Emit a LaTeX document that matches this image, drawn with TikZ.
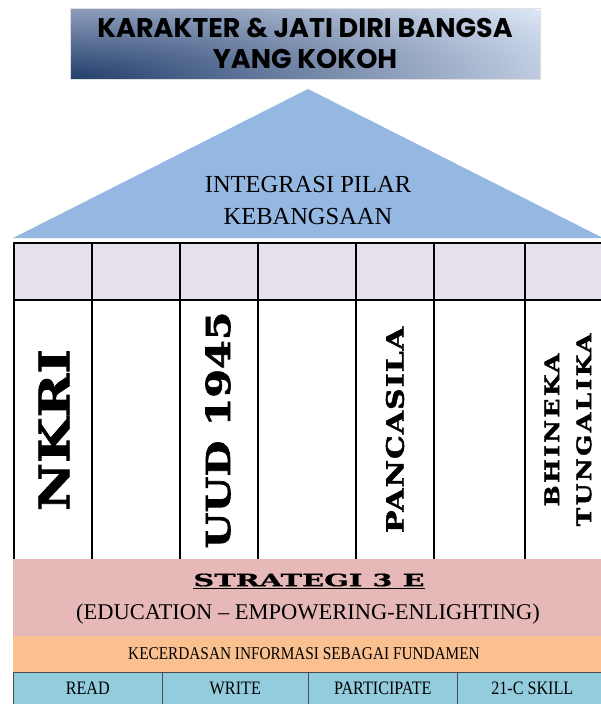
\documentclass[tikz,border=0pt]{standalone}
\usepackage{fontspec}
\setmainfont{Liberation Serif}
\newfontfamily\decofont{Poppins}
\newfontfamily\pillarfont{DejaVu Serif Bold}[FakeStretch=1.25,FakeBold=2]
\newfontfamily\stratfont{DejaVu Serif Bold}[FakeStretch=1.7,FakeBold=1]
\newfontfamily\narrowfont{Liberation Serif}[FakeStretch=0.85]
\definecolor{roofblue}{RGB}{149,184,226}
\definecolor{cellgray}{RGB}{229,224,236}
\definecolor{stratpink}{RGB}{230,185,184}
\definecolor{infoorange}{RGB}{250,192,144}
\definecolor{skillblue}{RGB}{147,205,221}
\definecolor{navy}{RGB}{35,62,108}
\definecolor{paleblue}{RGB}{220,230,246}

\begin{document}
\begin{tikzpicture}[x=1pt,y=-1pt,
    grid/.style={line width=1.6pt},
    pillar/.style={rotate=90,font=\pillarfont,inner sep=0pt,align=center},
    skill/.style={draw=black!70,fill=skillblue,line width=.6pt,anchor=north west,
      minimum height=32pt,inner sep=0pt,font=\narrowfont\fontsize{19}{20}\selectfont}]
  \useasboundingbox (0,0) rectangle (601,704);
  % atap
  \begin{scope}
    \clip (70,8) rectangle (540,79);
    \shade[inner color=navy,outer color=paleblue] (70,79) ellipse (560 and 125);
  \end{scope}
  \node[draw=gray!25,minimum width=470pt,minimum height=71pt,align=center,
    font=\decofont\bfseries\fontsize{27}{31}\selectfont] (title) at (305,43.5)
    {KARAKTER \& JATI DIRI BANGSA\\YANG KOKOH};
  \fill[roofblue] (13,238) -- (308,89) -- (603,238) -- cycle;
  \node[align=center,font=\fontsize{24.5}{32}\selectfont] (roof) at (308,201)
    {INTEGRASI PILAR\\KEBANGSAAN};
  % tiang
  \fill[cellgray] (14,243) rectangle (601,300);
  \draw[grid] (13,243) -- (601,243);
  \draw[grid] (13,300) -- (601,300);
  \foreach \x in {14,92,180,258,356,434,525}
    \draw[grid] (\x,243) -- (\x,560);
  \node[pillar,font=\pillarfont\fontsize{42}{42}\selectfont] (nkri) at (54,430) {NKRI};
  \node[pillar,font=\pillarfont\fontsize{33}{33}\selectfont] (uud) at (218,430) {UUD 1945};
  \node[pillar,font=\pillarfont\fontsize{24}{24}\selectfont\addfontfeature{LetterSpace=4}] (pancasila) at (395,430) {PANCASILA};
  \node[pillar,font=\pillarfont\fontsize{20}{32}\selectfont\addfontfeature{LetterSpace=12}] (bhineka) at (568,430) {BHINEKA\\TUNGALIKA};
  % fondasi
  \fill[stratpink] (13,559) rectangle (601,636);
  \node[font=\stratfont\fontsize{17}{17}\selectfont] (strategi) at (309,581) {\underline{STRATEGI 3 E}};
  \node[font=\fontsize{22.5}{23}\selectfont] (tiga) at (308,614) {(EDUCATION -- EMPOWERING-ENLIGHTING)};
  \fill[infoorange] (13,636) rectangle (601,672);
  \node[font=\narrowfont\fontsize{18}{18}\selectfont] (info) at (304,654) {KECERDASAN INFORMASI SEBAGAI FUNDAMEN};
  \node[skill,minimum width=149pt] (read) at (13,672) {READ};
  \node[skill,minimum width=146pt] (write) at (162,672) {WRITE};
  \node[skill,minimum width=149pt] (participate) at (308,672) {PARTICIPATE};
  \node[skill,minimum width=150pt] (skill) at (457,672) {21-C SKILL};
\end{tikzpicture}
\end{document}
